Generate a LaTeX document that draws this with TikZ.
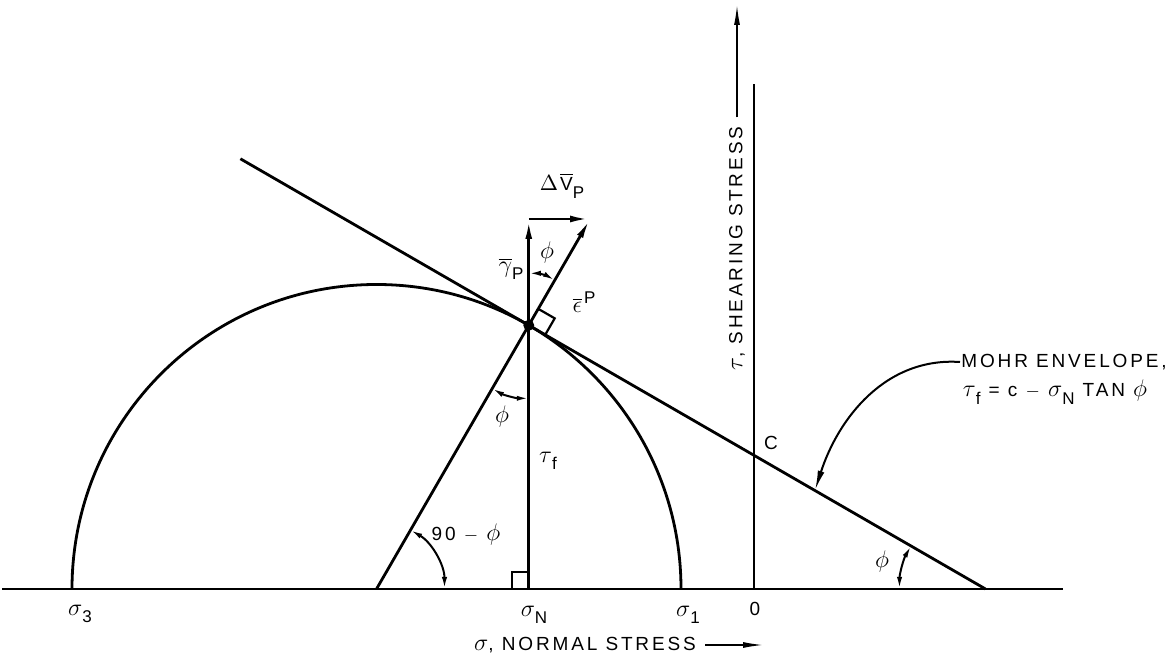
\documentclass[tikz,border=0pt]{standalone}
\usepackage{fontspec}
\setmainfont[LetterSpace=15]{Liberation Sans}
\setsansfont[LetterSpace=15]{Liberation Sans}
\usetikzlibrary{arrows.meta,calc}

% Greek letter a bit larger than the lettering, and lowered/raised indices
\newcommand{\gk}[1]{{\fontsize{11.5}{12}\selectfont$#1$}}
\newcommand{\lsub}[1]{\raisebox{-0.75ex}{\fontsize{8.5}{9}\selectfont #1}}
\newcommand{\lsup}[1]{\raisebox{0.9ex}{\fontsize{8.5}{9}\selectfont #1}}

\begin{document}
\begin{tikzpicture}[
        x=0.5pt,  % 1 unit = 1 px of the sheet
        y=0.5pt,
        line width=1.4pt,
        vecarrow/.style={-{Latex[length=10pt,width=3.4pt]}},
        thinarrow/.style={line width=0.7pt, -{Latex[length=10pt,width=3pt]}},
        angarrow/.style={line width=1pt, {Latex[length=6pt,width=2.6pt]}-{Latex[length=6pt,width=2.6pt]}},
        lbl/.style={font=\fontsize{9.5}{11}\selectfont, inner sep=0pt},
    ]

    \useasboundingbox (0,-78) rectangle (1171,589);

    % Points on the sigma axis
    \coordinate (AxL) at (2,0);
    \coordinate (AxR) at (1063,0);
    \coordinate (S3) at (72,0);
    \coordinate (Cc) at (376.5,0);
    \coordinate (SN) at (528.75,0);
    \coordinate (S1) at (681,0);
    \coordinate (O) at (754,0);
    \coordinate (Eax) at (985.5,0);

    % Tangent point and vector triangle
    \coordinate (T) at (528.75,263.7);
    \coordinate (Top) at (528.75,370);
    \coordinate (Vtip) at (590.1,370);
    \coordinate (Ebeg) at (240.4,430.2);
    \coordinate (Otop) at (754,505);
    \coordinate (Mtip) at ($(T)!0.6266!(Eax)$);

    % Axes
    \draw (AxL) -- (AxR);
    \draw (O) -- (Otop);

    % Mohr circle
    \draw (S1) arc[start angle=0, end angle=180, radius=304.5];

    % Mohr envelope
    \draw (Ebeg) -- (Eax);

    % Vectors
    \draw[vecarrow] (Cc) -- (Vtip);
    \draw[vecarrow] (SN) -- (Top);
    \draw[vecarrow] (Top) -- (Vtip);
    \fill (T) circle[radius=5.5];

    % Right angle marks
    \draw[line width=1.1pt] ($(T)+(60:19)$) -- ++(-30:19) -- ++(-120:19);
    \draw[line width=1.1pt] ($(SN)+(-17,0)$) -- ++(0,17) -- ++(17,0);

    % Angle arcs
    \draw[angarrow] ($(T)+(90:52)$) arc[start angle=90, end angle=60, radius=52];
    \draw[angarrow] ($(T)+(240:73)$) arc[start angle=240, end angle=270, radius=73];
    \draw[angarrow] ($(Cc)+(60:68)$) arc[start angle=60, end angle=0, radius=68];
    \draw[angarrow] ($(Eax)+(180:86)$) arc[start angle=180, end angle=150, radius=86];

    % Axis labels
    \node[lbl] (lS3) at (80,-25) {\gk{\sigma}\lsub{3}};
    \node[lbl] (lSN) at (534,-26) {\gk{\sigma}\lsub{N}};
    \node[lbl] (lS1) at (688,-26) {\gk{\sigma}\lsub{1}};
    \node[lbl] (lO) at (755,-20) {0};
    \node[lbl] (lC) at (771,146) {C};

    % Angle labels
    \node[lbl] (phiA) at (547,336) {\gk{\phi}};
    \node[lbl] (phiB) at (502,172) {\gk{\phi}};
    \node[lbl] (phiC) at (466,54) {90 $-$ \gk{\phi}};
    \node[lbl] (phiD) at (882,27) {\gk{\phi}};

    % Vector labels
    \node[lbl] (lTau) at (548,128) {\gk{\tau}\lsub{f}};
    \node[lbl] (lDV) at (562,403) {{\fontsize{11}{12}\selectfont$\Delta$}\kern1pt$\overline{\mbox{V}}$\lsub{P}};
    \node[lbl] (lGam) at (511,320) {\gk{\overline{\gamma}}\lsub{P}};
    \node[lbl] (lEps) at (584,287) {\gk{\overline{\epsilon}}\kern1pt\lsup{P}};

    % Stress axis titles
    \coordinate (sigTip) at (763,0);
    \coordinate (tauTip) at (0,584);
    \node[lbl] (sigLbl) at (585,-56) {\gk{\sigma}, NORMAL STRESS};
    \draw[thinarrow] ([xshift=4pt]sigLbl.east) -- (sigLbl.east -| sigTip);
    \node[lbl, rotate=90, anchor=west] (tauLbl) at (737,217) {\gk{\tau}, SHEARING STRESS};
    \draw[thinarrow] ([yshift=4pt]tauLbl.east) -- (tauLbl.east |- tauTip);

    % Mohr envelope note
    \node[lbl, anchor=west] (mohrA) at (960,227) {MOHR ENVELOPE,};
    \node[lbl] (mohrB) at (1055,197) {\gk{\tau}\lsub{f} = c $-$ \gk{\sigma}\lsub{N} TAN \gk{\phi}};
    \draw[vecarrow, line width=1pt] (mohrA.west) .. controls (885,232) and (838,170) .. (Mtip);

\end{tikzpicture}
\end{document}
